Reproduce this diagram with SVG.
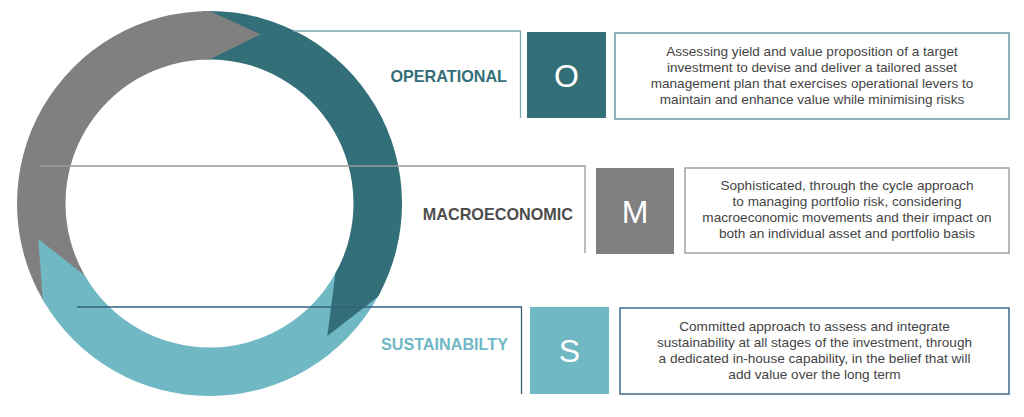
<svg xmlns="http://www.w3.org/2000/svg" width="1024" height="417" viewBox="0 0 1024 417">
<style>
.body{font-family:"Liberation Sans",Arial,sans-serif;font-size:13.6px;fill:#444;text-anchor:middle}
.lbl{font-family:"Liberation Sans",Arial,sans-serif;font-size:16.2px;font-weight:bold;text-anchor:end}
.ltr{font-family:"Liberation Sans",Arial,sans-serif;font-size:32px;fill:#fff;text-anchor:middle}
.ln{fill:none;stroke-width:1.3}
.dark{fill:#336f78}
.grey{fill:#808080}
.light{fill:#70b8c4}
</style>
<rect width="1024" height="417" fill="#fff"/>
<g id="cycle">
  <path class="grey" d="M42.79 299.75 A192.5 192.5 0 0 1 209.5 11 L209.5 59.5 A144 144 0 0 0 84.79 275.5 Z"/>
  <path class="dark" d="M209.5 11 A192.5 192.5 0 0 1 377.86 296.83 L335.44 273.31 A144 144 0 0 0 209.5 59.5 Z"/>
  <path class="light" d="M377.86 296.83 A192.5 192.5 0 0 1 42.79 299.75 L84.79 275.5 A144 144 0 0 0 335.44 273.31 Z"/>
  <path class="grey" d="M202.78 11.12 A192.5 192.5 0 0 1 209.5 11 L260.6 34.3 L209.5 59.5 A144 144 0 0 0 204.47 59.59 Z"/>
  <path class="dark" d="M381.02 290.9 A192.5 192.5 0 0 1 377.86 296.83 L327.3 336 L335.44 273.31 A144 144 0 0 0 337.8 268.88 Z"/>
  <path class="light" d="M46.25 305.51 A192.5 192.5 0 0 1 42.79 299.75 L38.3 239 L84.79 275.5 A144 144 0 0 0 87.39 279.81 Z"/>
</g>
<g id="connectors">
  <path class="ln" stroke="#7fa9af" d="M293 31 H520.5 V118"/>
  <path class="ln" stroke="#9a9a9a" d="M40 166 H585 V253"/>
  <path class="ln" stroke="#35607f" d="M77 307 H521.5 V394"/>
</g>
<g id="operational">
  <text class="lbl" x="507" y="82" fill="#336f78">OPERATIONAL</text>
  <rect x="527" y="32" width="79" height="86" fill="#336f78"/>
  <text class="ltr" x="566.5" y="86.5">O</text>
  <rect x="615" y="33" width="394" height="86" fill="#fff" stroke="#6d9ba3" stroke-width="1.5"/>
  <text class="body" x="812" y="56">Assessing yield and value proposition of a target</text>
  <text class="body" x="812" y="72">investment to devise and deliver a tailored asset</text>
  <text class="body" x="812" y="88">management plan that exercises operational levers to</text>
  <text class="body" x="812" y="104">maintain and enhance value while minimising risks</text>
</g>
<g id="macroeconomic">
  <text class="lbl" x="573" y="219.5" fill="#4d4d4d">MACROECONOMIC</text>
  <rect x="596" y="168" width="78" height="86" fill="#808080"/>
  <text class="ltr" x="635" y="222.5">M</text>
  <rect x="685" y="168" width="324" height="85" fill="#fff" stroke="#a0a0a0" stroke-width="1.5"/>
  <text class="body" x="847" y="190">Sophisticated, through the cycle approach</text>
  <text class="body" x="847" y="206">to managing portfolio risk, considering</text>
  <text class="body" x="847" y="222">macroeconomic movements and their impact on</text>
  <text class="body" x="847" y="238">both an individual asset and portfolio basis</text>
</g>
<g id="sustainability">
  <text class="lbl" x="508" y="349.5" fill="#70b8c4">SUSTAINABILTY</text>
  <rect x="530" y="307" width="79" height="87" fill="#70b8c4"/>
  <text class="ltr" x="569.5" y="361.5">S</text>
  <rect x="620" y="308" width="389" height="86" fill="#fff" stroke="#3f6889" stroke-width="1.5"/>
  <text class="body" x="814.5" y="331">Committed approach to assess and integrate</text>
  <text class="body" x="814.5" y="347">sustainability at all stages of the investment, through</text>
  <text class="body" x="814.5" y="363">a dedicated in-house capability, in the belief that will</text>
  <text class="body" x="814.5" y="379">add value over the long term</text>
</g>
</svg>
